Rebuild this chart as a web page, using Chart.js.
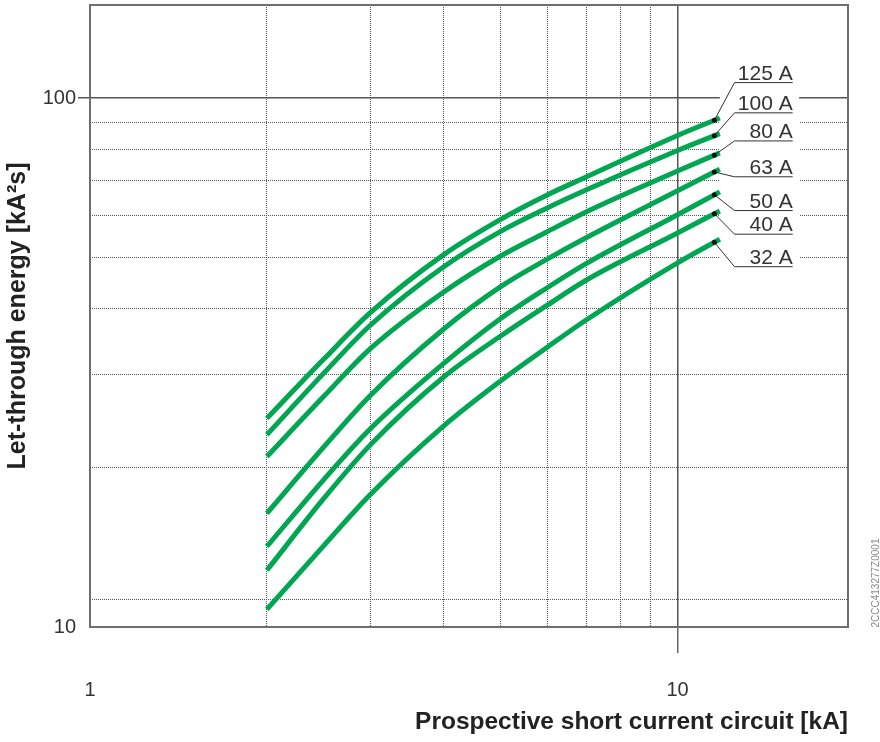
<!DOCTYPE html>
<html>
<head>
<meta charset="utf-8">
<title>Let-through energy</title>
<script src="https://cdn.jsdelivr.net/npm/chart.js@4.4.0/dist/chart.umd.min.js"></script>
<style>
  html, body { margin: 0; padding: 0; background: #fff; }
  #wrap { width: 880px; height: 742px; }
</style>
</head>
<body>
<div id="wrap"><canvas id="energyChart" width="880" height="742"></canvas></div>
<script>
// Prospective short circuit current [kA]
const currents = [2, 2.5, 3, 4, 5, 6, 7, 10, 11.8];

// Let-through energy [kA²s] per rating
const ratings = ['125 A', '100 A', '80 A', '63 A', '50 A', '40 A', '32 A'];
const energy125 = [24.8, 32.1, 39.3, 50.6, 59.0, 65.6, 71.0, 85.0, 91.7];
const energy100 = [23.1, 30.2, 37.2, 48.0, 56.0, 62.0, 67.1, 79.6, 85.7];
const energy80  = [21.0, 27.3, 33.6, 43.0, 50.3, 55.9, 61.0, 72.8, 78.8];
const energy63  = [16.4, 21.9, 27.4, 36.6, 44.0, 49.6, 54.5, 66.8, 73.4];
const energy50  = [14.2, 19.0, 23.7, 31.5, 38.3, 43.8, 48.7, 60.2, 66.5];
const energy40  = [12.8, 17.5, 22.1, 29.7, 35.5, 40.6, 45.3, 55.6, 61.2];
const energy32  = [10.8, 14.25, 17.8, 24.0, 29.2, 33.8, 38.1, 48.8, 54.1];
const series = [energy125, energy100, energy80, energy63, energy50, energy40, energy32];

// axis ticks / gridlines
const xTicks = [1, 2, 3, 4, 5, 6, 7, 8, 9, 10];
const yTicks = [10, 11.25, 20, 30, 40, 50, 60, 70, 80, 90, 100];
const xLabelled = [1, 10];
const yLabelled = [10, 100];

// where the rating labels sit (y in kA²s)
const labelLevels = [107, 93.8, 83.0, 71.0, 61.3, 55.3, 48.0];

const green = '#00a651';
const gridGrey = '#555';

// anchor dot on the curve end (log interpolation between last two points)
function dotValue(vals, xv) {
    const n = vals.length;
    const x0 = Math.log(currents[n - 2]), x1 = Math.log(currents[n - 1]);
    const t = (Math.log(xv) - x0) / (x1 - x0);
    return Math.exp(Math.log(vals[n - 2]) + t * (Math.log(vals[n - 1]) - Math.log(vals[n - 2])));
}

const labelPlugin = {
    id: 'ratingLabels',
    beforeDatasetsDraw(chart) {
        const {ctx, chartArea, scales: {x, y}} = chart;
        ctx.save();
        // white box behind the labels, hides the grid there
        const bx1 = x.getPixelForValue(11.8), bx2 = x.getPixelForValue(16.1);
        const by1 = y.getPixelForValue(118), by2 = y.getPixelForValue(46.5);
        ctx.fillStyle = '#fff';
        ctx.fillRect(bx1, by1, bx2 - bx1, by2 - by1);
        // frame around plot
        ctx.strokeStyle = '#6e6e6e';
        ctx.lineWidth = 2;
        ctx.strokeRect(chartArea.left, chartArea.top, chartArea.width, chartArea.height);
        ctx.restore();
    },
    afterDatasetsDraw(chart) {
        const {ctx, scales: {x, y}} = chart;
        const dotX = x.getPixelForValue(11.55);
        const lineStart = x.getPixelForValue(12.5);
        const lineEnd = x.getPixelForValue(15.7);
        ctx.save();
        ctx.font = '300 21px "Liberation Sans", Arial, sans-serif';
        ctx.textAlign = 'right';
        ctx.textBaseline = 'alphabetic';
        series.forEach((vals, i) => {
            const dy = y.getPixelForValue(dotValue(vals, 11.55));
            const ly = y.getPixelForValue(labelLevels[i]);
            ctx.strokeStyle = '#333';
            ctx.lineWidth = 1;
            ctx.beginPath();
            ctx.moveTo(dotX, dy);
            ctx.lineTo(lineStart, ly);
            ctx.lineTo(lineEnd, ly);
            ctx.stroke();
            ctx.fillStyle = '#111';
            ctx.beginPath();
            ctx.arc(dotX, dy, 2.5, 0, Math.PI * 2);
            ctx.fill();
            ctx.fillStyle = '#333';
            ctx.fillText(ratings[i], lineEnd, ly - 3);
        });
        ctx.restore();
    },
    afterDraw(chart) {
        // drawing number on the right edge
        const {ctx} = chart;
        ctx.save();
        ctx.translate(876, 583);
        ctx.rotate(-Math.PI / 2);
        ctx.font = '10px "Liberation Sans", Arial, sans-serif';
        ctx.fillStyle = '#8a8a8a';
        ctx.textAlign = 'center';
        ctx.textBaseline = 'middle';
        ctx.fillText('2CCC413277Z0001', 0, 0);
        ctx.restore();
    }
};

const ctx = document.getElementById('energyChart').getContext('2d');

new Chart(ctx, {
    type: 'line',
    data: {
        datasets: series.map((vals, i) => ({
            label: ratings[i],
            data: currents.map((c, j) => ({x: c, y: vals[j]})),
            borderColor: green,
            borderWidth: 5,
            pointRadius: 0,
            cubicInterpolationMode: 'monotone',
            fill: false
        }))
    },
    options: {
        responsive: false,
        animation: false,
        devicePixelRatio: 1,
        layout: { padding: { top: 5, right: 32, left: 0, bottom: 0 } },
        plugins: {
            legend: { display: false },
            tooltip: { enabled: false }
        },
        scales: {
            x: {
                type: 'logarithmic',
                min: 1,
                max: 19.5,
                afterBuildTicks: (scale) => { scale.ticks = xTicks.map(v => ({value: v})); },
                afterFit: (scale) => { scale.height = 115; scale.paddingLeft = 0; scale.paddingRight = 0; },
                ticks: {
                    autoSkip: false,
                    maxRotation: 0,
                    padding: 25,
                    color: '#333',
                    font: { family: '"Liberation Sans", Arial, sans-serif', size: 20, weight: '300' },
                    callback: (v) => xLabelled.includes(v) ? String(v) : ''
                },
                grid: {
                    drawTicks: true,
                    tickLength: 26,
                    color: (c) => c.tick && c.tick.value === 1 ? 'rgba(0,0,0,0)' : gridGrey,
                    lineWidth: (c) => c.tick && c.tick.value === 10 ? 1.5 : 1,
                    tickColor: (c) => c.tick && c.tick.value === 10 ? '#666' : 'rgba(0,0,0,0)',
                    tickWidth: 1.5
                },
                border: {
                    display: false,
                    dash: (c) => c.tick && c.tick.value !== 10 ? [1, 1] : []
                },
                title: {
                    display: true,
                    text: 'Prospective short current circuit [kA]',
                    align: 'end',
                    color: '#222',
                    font: { family: '"Liberation Sans", Arial, sans-serif', size: 24.5, weight: 'bold' },
                    padding: { top: 0, bottom: 5 }
                }
            },
            y: {
                type: 'logarithmic',
                min: 10,
                max: 150,
                afterBuildTicks: (scale) => { scale.ticks = yTicks.map(v => ({value: v})); },
                afterFit: (scale) => { scale.width = 90; scale.paddingTop = 0; scale.paddingBottom = 0; },
                ticks: {
                    autoSkip: false,
                    padding: 2,
                    color: '#333',
                    font: { family: '"Liberation Sans", Arial, sans-serif', size: 20, weight: '300' },
                    callback: (v) => yLabelled.includes(v) ? String(v) : ''
                },
                grid: {
                    drawTicks: true,
                    tickLength: 12,
                    color: (c) => c.tick && c.tick.value === 10 ? 'rgba(0,0,0,0)' : gridGrey,
                    lineWidth: (c) => c.tick && c.tick.value === 100 ? 1.5 : 1,
                    tickColor: (c) => c.tick && c.tick.value === 100 ? '#555' : 'rgba(0,0,0,0)',
                    tickWidth: 1.5
                },
                border: {
                    display: false,
                    dash: (c) => c.tick && c.tick.value !== 100 ? [1, 1] : []
                },
                title: {
                    display: true,
                    text: 'Let-through energy [kA²s]',
                    color: '#222',
                    font: { family: '"Liberation Sans", Arial, sans-serif', size: 25, weight: 'bold' },
                    padding: { top: 3, bottom: 0 }
                }
            }
        }
    },
    plugins: [labelPlugin]
});
</script>
</body>
</html>
